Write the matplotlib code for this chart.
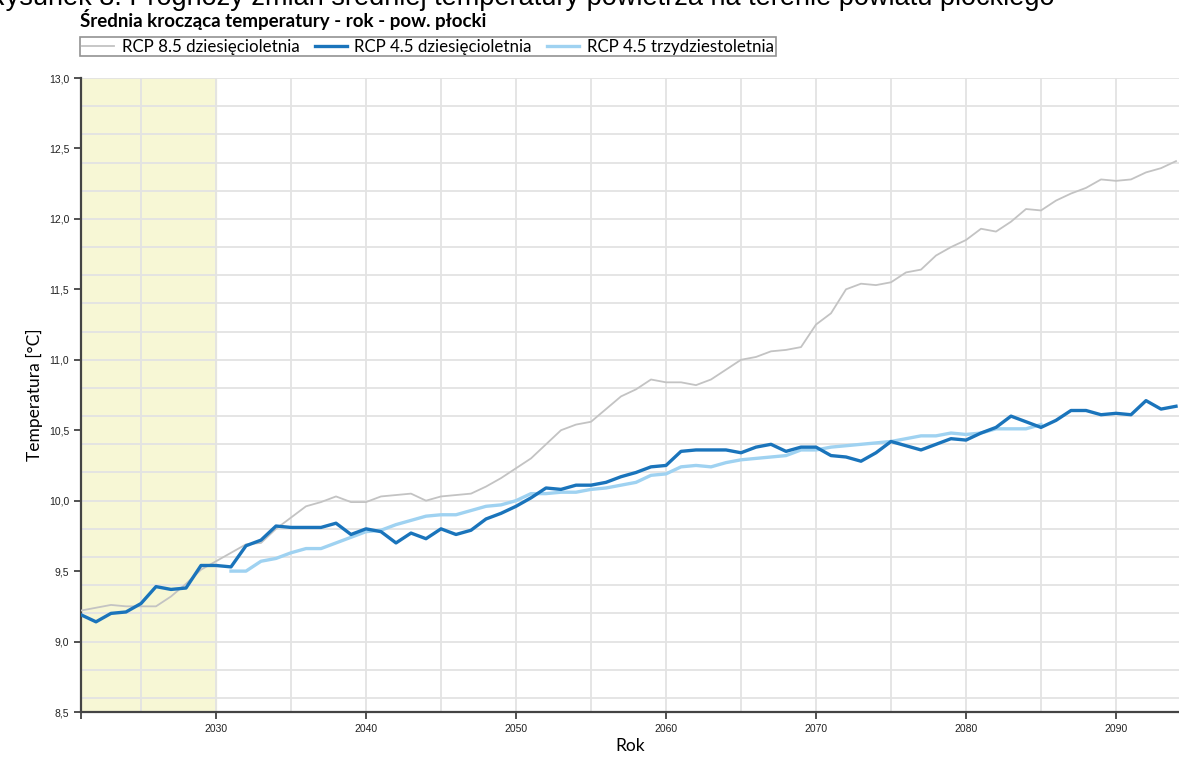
import numpy as np
import matplotlib
matplotlib.use('Agg')
import matplotlib.pyplot as plt
from matplotlib.ticker import FuncFormatter, MultipleLocator

# data
years = list(range(2021, 2095))

rcp85_10 = [9.22, 9.24, 9.26, 9.25, 9.25, 9.25, 9.32, 9.41, 9.51, 9.57,
            9.63, 9.69, 9.70, 9.80, 9.88, 9.96, 9.99, 10.03, 9.99, 9.99,
            10.03, 10.04, 10.05, 10.00, 10.03, 10.04, 10.05, 10.10, 10.16, 10.23,
            10.30, 10.40, 10.50, 10.54, 10.56, 10.65, 10.74, 10.79, 10.86, 10.84,
            10.84, 10.82, 10.86, 10.93, 11.00, 11.02, 11.06, 11.07, 11.09, 11.25,
            11.33, 11.50, 11.54, 11.53, 11.55, 11.62, 11.64, 11.74, 11.80, 11.85,
            11.93, 11.91, 11.98, 12.07, 12.06, 12.13, 12.18, 12.22, 12.28, 12.27,
            12.28, 12.33, 12.36, 12.41]

rcp45_10 = [9.19, 9.14, 9.20, 9.21, 9.27, 9.39, 9.37, 9.38, 9.54, 9.54,
            9.53, 9.68, 9.72, 9.82, 9.81, 9.81, 9.81, 9.84, 9.76, 9.80,
            9.78, 9.70, 9.77, 9.73, 9.80, 9.76, 9.79, 9.87, 9.91, 9.96,
            10.02, 10.09, 10.08, 10.11, 10.11, 10.13, 10.17, 10.20, 10.24, 10.25,
            10.35, 10.36, 10.36, 10.36, 10.34, 10.38, 10.40, 10.35, 10.38, 10.38,
            10.32, 10.31, 10.28, 10.34, 10.42, 10.39, 10.36, 10.40, 10.44, 10.43,
            10.48, 10.52, 10.60, 10.56, 10.52, 10.57, 10.64, 10.64, 10.61, 10.62,
            10.61, 10.71, 10.65, 10.67]

years_30 = list(range(2031, 2086))
rcp45_30 = [9.50, 9.50, 9.57, 9.59, 9.63, 9.66, 9.66, 9.70, 9.74, 9.78,
            9.79, 9.83, 9.86, 9.89, 9.90, 9.90, 9.93, 9.96, 9.97, 10.00,
            10.05, 10.05, 10.06, 10.06, 10.08, 10.09, 10.11, 10.13, 10.18, 10.19,
            10.24, 10.25, 10.24, 10.27, 10.29, 10.30, 10.31, 10.32, 10.36, 10.36,
            10.38, 10.39, 10.40, 10.41, 10.42, 10.44, 10.46, 10.46, 10.48, 10.47,
            10.48, 10.51, 10.51, 10.51, 10.54]

fig = plt.figure(figsize=(11.79, 7.58), dpi=100)
ax = fig.add_axes([81 / 1179, 1 - 712 / 758, 1098 / 1179, (712 - 78) / 758])

ax.axvspan(2021, 2030, color='#f7f7d5', zorder=0)

ax.plot(years, rcp85_10, color='#c3c3c3', lw=1.3, label='RCP 8.5 dziesięcioletnia', zorder=3)
ax.plot(years_30, rcp45_30, color='#9fd2f1', lw=2.4, label='RCP 4.5 trzydziestoletnia', zorder=4)
ax.plot(years, rcp45_10, color='#1a74bb', lw=2.4, label='RCP 4.5 dziesięcioletnia', zorder=5)

ax.set_xlim(2021, 2094.2)
ax.set_ylim(8.5, 13.0)

# grid
for x in range(2025, 2095, 5):
    ax.axvline(x, color='#e3e3e3', lw=1.3, zorder=1)
for y in np.arange(8.6, 13.01, 0.2):
    ax.axhline(y, color='#e3e3e3', lw=1.3, zorder=1)

ax.set_xticks(range(2030, 2091, 10))
ax.set_xticks([2021], minor=True)
ax.yaxis.set_major_locator(MultipleLocator(0.5))
ax.yaxis.set_major_formatter(FuncFormatter(lambda v, p: f'{v:.1f}'.replace('.', ',')))
ax.tick_params(axis='both', labelsize=7.5, colors='#333333', length=5, width=1.2,
               labelcolor='#222222')
ax.tick_params(axis='x', which='minor', length=5, width=1.2, colors='#333333')
for lbl in ax.get_xticklabels() + ax.get_yticklabels():
    lbl.set_family('Liberation Sans')

for s in ['top', 'right']:
    ax.spines[s].set_visible(False)
for s in ['left', 'bottom']:
    ax.spines[s].set_color('#444444')
    ax.spines[s].set_linewidth(1.6)

ax.set_xlabel('Rok', fontsize=12.5, family='Lato', labelpad=3)
ax.set_ylabel('Temperatura [°C]', fontsize=12.5, family='Lato', labelpad=4)

# legend in the original order
h, l = ax.get_legend_handles_labels()
order = [0, 2, 1]
leg = fig.legend([h[i] for i in order], [l[i] for i in order],
                 loc='upper left', bbox_to_anchor=(80 / 1179, 1 - 37 / 758),
                 ncol=3, frameon=True, fancybox=False,
                 prop={'family': 'Lato', 'size': 12.2},
                 handlelength=1.9, handletextpad=0.45, columnspacing=0.9,
                 borderpad=0.1, borderaxespad=0)
leg.get_frame().set_edgecolor('#777777')
leg.get_frame().set_linewidth(1.2)

fig.text(80 / 1179, 1 - 20 / 758, 'Średnia krocząca temperatury - rok - pow. płocki',
         fontsize=13.5, fontweight='bold', family='Lato', va='center', ha='left')
fig.text(-0.012, 1 - 5 / 758,
         'Rysunek 8. Prognozy zmian średniej temperatury powietrza na terenie powiatu płockiego',
         fontsize=19.5, family='Liberation Sans', va='baseline', ha='left')

fig.savefig('out.png', dpi=100)
